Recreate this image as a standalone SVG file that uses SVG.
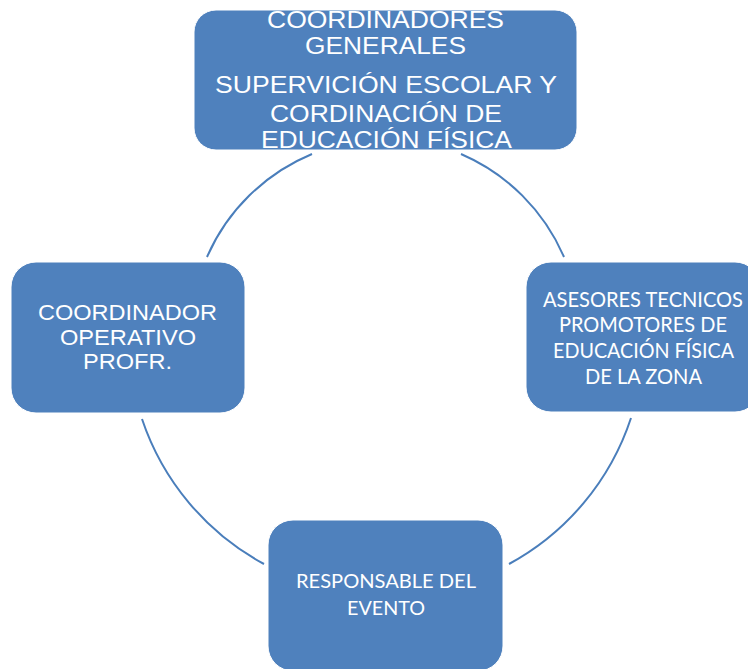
<svg xmlns="http://www.w3.org/2000/svg" width="748" height="669" viewBox="0 0 748 669">
<style>
.box{fill:#4f81bd;stroke:#ffffff;stroke-width:1}
.arc{fill:none;stroke:#4a7ebb;stroke-width:2}
.a{font-family:"Liberation Sans",Arial,sans-serif;fill:#ffffff;text-anchor:middle}
.c{font-family:Lato,"Open Sans",sans-serif;fill:#ffffff;text-anchor:middle}
</style>
<rect width="748" height="669" fill="#ffffff"/>
<g id="connectors">
<path class="arc" d="M207,257 A197,197 0 0 1 312,154"/>
<path class="arc" d="M461,154 A197,197 0 0 1 564,257"/>
<path class="arc" d="M631,418 A258,258 0 0 1 509,564"/>
<path class="arc" d="M264,564 A258,258 0 0 1 142,419"/>
</g>
<g id="node-top">
<rect class="box" x="194" y="10" width="383" height="140" rx="22"/>
<text class="a" font-size="23" x="385.5" y="28" textLength="237" lengthAdjust="spacingAndGlyphs">COORDINADORES</text>
<text class="a" font-size="23" x="385.5" y="54" textLength="161" lengthAdjust="spacingAndGlyphs">GENERALES</text>
<text class="a" font-size="23" x="386" y="93" textLength="342" lengthAdjust="spacingAndGlyphs">SUPERVICIÓN ESCOLAR Y</text>
<text class="a" font-size="23" x="386" y="122" textLength="232" lengthAdjust="spacingAndGlyphs">CORDINACIÓN DE</text>
<text class="a" font-size="23" x="386.5" y="148" textLength="251" lengthAdjust="spacingAndGlyphs">EDUCACIÓN FÍSICA</text>
</g>
<g id="node-right">
<rect class="box" x="526" y="262" width="234" height="150" rx="25"/>
<text class="c" font-size="20.5" x="643" y="306.5" textLength="200" lengthAdjust="spacingAndGlyphs">ASESORES TECNICOS</text>
<text class="c" font-size="20.5" x="643" y="332" textLength="168" lengthAdjust="spacingAndGlyphs">PROMOTORES DE</text>
<text class="c" font-size="20.5" x="643.5" y="358" textLength="181" lengthAdjust="spacingAndGlyphs">EDUCACIÓN FÍSICA</text>
<text class="c" font-size="20.5" x="643.5" y="384" textLength="117" lengthAdjust="spacingAndGlyphs">DE LA ZONA</text>
</g>
<g id="node-left">
<rect class="box" x="11" y="262" width="234" height="151" rx="25"/>
<text class="a" font-size="22" x="127.5" y="320" textLength="179" lengthAdjust="spacingAndGlyphs">COORDINADOR</text>
<text class="a" font-size="22" x="128" y="345" textLength="136" lengthAdjust="spacingAndGlyphs">OPERATIVO</text>
<text class="a" font-size="22" x="127.5" y="369" textLength="89" lengthAdjust="spacingAndGlyphs">PROFR.</text>
</g>
<g id="node-bottom">
<rect class="box" x="268" y="520" width="235" height="151" rx="25"/>
<text class="c" font-size="18.5" x="386" y="588" textLength="180" lengthAdjust="spacingAndGlyphs">RESPONSABLE DEL</text>
<text class="c" font-size="18.5" x="386" y="615" textLength="78" lengthAdjust="spacingAndGlyphs">EVENTO</text>
</g>
</svg>
